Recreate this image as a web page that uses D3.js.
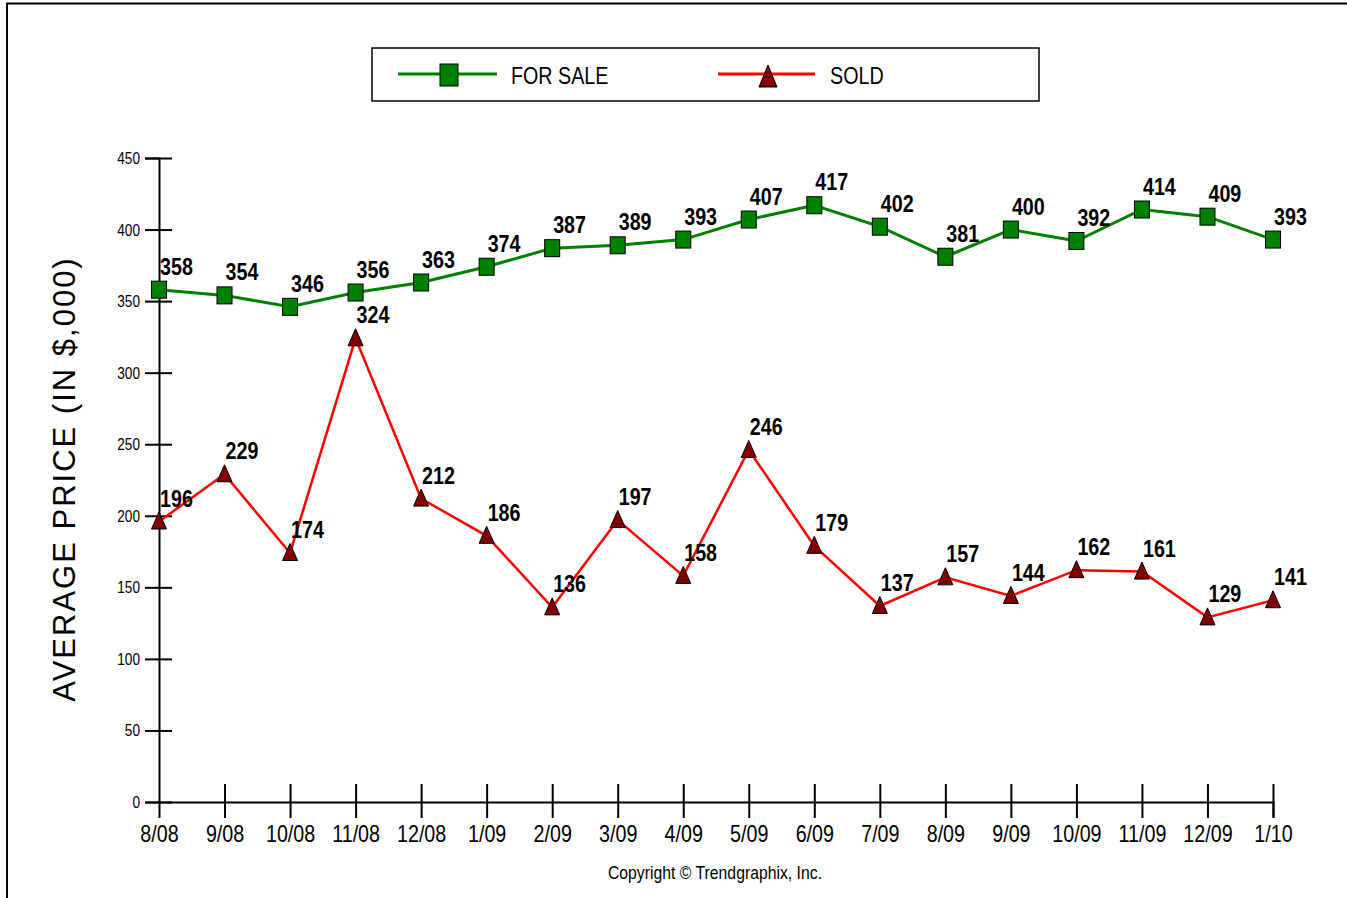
<!DOCTYPE html>
<html>
<head>
<meta charset="utf-8">
<script src="https://cdn.jsdelivr.net/npm/d3@7/dist/d3.min.js"></script>
<style>
  body { margin: 0; background: #fff; }
  .narrow { font-family: "Liberation Sans", Arial, sans-serif; }
</style>
</head>
<body>
<div class="chart"></div>
<script>
// Average price, for sale vs sold
var months = ['8/08', '9/08', '10/08', '11/08', '12/08', '1/09', '2/09', '3/09', '4/09',
  '5/09', '6/09', '7/09', '8/09', '9/09', '10/09', '11/09', '12/09', '1/10']
var forSale = [358, 354, 346, 356, 363, 374, 387, 389, 393, 407, 417, 402, 381, 400, 392, 414, 409, 393]
var sold = [196, 229, 174, 324, 212, 186, 136, 197, 158, 246, 179, 137, 157, 144, 162, 161, 129, 141]
var yTicks = [0, 50, 100, 150, 200, 250, 300, 350, 400, 450]

var width = 1347
var height = 898

var svg = d3.select('.chart')
  .append('svg')
  .attr('width', width)
  .attr('height', height)

// squeeze text horizontally (no narrow font installed)
function condense(sel, k) {
  sel.each(function() {
    var w = this.getComputedTextLength()
    d3.select(this)
      .attr('textLength', w * k)
      .attr('lengthAdjust', 'spacingAndGlyphs')
  })
}

// frame (left + top edge)
svg.append('path')
  .attr('d', 'M7,898V3.5H1347')
  .attr('fill', 'none')
  .attr('stroke', '#000')
  .attr('stroke-width', 2)

var xScale = d3.scalePoint()
  .domain(months)
  .range([159, 1273])

var yScale = d3.scaleLinear()
  .domain([0, 450])
  .range([802, 158])

// Y-axis
var yAxis = d3.axisLeft(yScale)
  .tickValues(yTicks)
  .tickSize(14)
  .tickPadding(5)

var yG = svg.append('g')
  .attr('transform', 'translate(159,0)')
  .call(yAxis)
yG.select('.domain').attr('stroke', '#000').attr('stroke-width', 2)
yG.selectAll('.tick line').attr('stroke', '#000').attr('stroke-width', 2)
yG.selectAll('.tick').append('line')
  .attr('x2', 13)
  .attr('stroke', '#000')
  .attr('stroke-width', 2)
yG.selectAll('.tick text')
  .attr('class', 'narrow')
  .attr('font-size', 17)
  .attr('fill', '#000')
  .call(condense, 0.8)

// X-axis
var xAxis = d3.axisBottom(xScale)
  .tickSize(16)
  .tickPadding(7)

var xG = svg.append('g')
  .attr('transform', 'translate(0,802)')
  .call(xAxis)
xG.select('.domain').attr('stroke', '#000').attr('stroke-width', 2)
xG.selectAll('.tick line')
  .attr('y1', -18)
  .attr('stroke', '#000')
  .attr('stroke-width', 2)
  .attr('display', (d, i) => i === 0 ? 'none' : null)
xG.selectAll('.tick text')
  .attr('class', 'narrow')
  .attr('font-size', 24)
  .attr('fill', '#000')
  .call(condense, 0.82)

// axis title
svg.append('text')
  .attr('transform', 'translate(75,479) rotate(-90)')
  .attr('text-anchor', 'middle')
  .attr('font-family', 'Arial, "Liberation Sans", sans-serif')
  .attr('font-size', 31)
  .attr('letter-spacing', 2)
  .text('AVERAGE PRICE (IN $,000)')

// lines
var line = d3.line()
  .x((d, i) => xScale(months[i]))
  .y(d => yScale(d))

svg.append('path')
  .datum(sold)
  .attr('d', line)
  .attr('fill', 'none')
  .attr('stroke', '#ff0000')
  .attr('stroke-width', 2.5)

svg.append('path')
  .datum(forSale)
  .attr('d', line)
  .attr('fill', 'none')
  .attr('stroke', '#008000')
  .attr('stroke-width', 3)

// markers
var tri = (w, h) => 'M0,' + (-h / 2) + 'L' + (w / 2) + ',' + (h / 2) + 'L' + (-w / 2) + ',' + (h / 2) + 'Z'

svg.selectAll('.sold-pt')
  .data(sold)
  .enter()
  .append('path')
  .attr('class', 'sold-pt')
  .attr('transform', (d, i) => 'translate(' + xScale(months[i]) + ',' + (yScale(d) - 1) + ')')
  .attr('d', tri(15, 17))
  .attr('fill', '#800000')
  .attr('stroke', '#000')
  .attr('stroke-width', 1)

svg.selectAll('.sale-pt')
  .data(forSale)
  .enter()
  .append('rect')
  .attr('class', 'sale-pt')
  .attr('x', (d, i) => xScale(months[i]) - 7.5)
  .attr('y', d => yScale(d) - 8.5)
  .attr('width', 15)
  .attr('height', 17)
  .attr('fill', '#008000')
  .attr('stroke', '#000')
  .attr('stroke-width', 1)

// value labels
function labels(data, cls) {
  svg.selectAll('.' + cls)
    .data(data)
    .enter()
    .append('text')
    .attr('class', 'narrow ' + cls)
    .attr('x', (d, i) => xScale(months[i]) + 1)
    .attr('y', d => yScale(d) - 15)
    .attr('font-size', 24)
    .attr('font-weight', 'bold')
    .text(d => d)
    .call(condense, 0.82)
}
labels(forSale, 'sale-lbl')
labels(sold, 'sold-lbl')

// legend
var legend = svg.append('g')
legend.append('rect')
  .attr('x', 372).attr('y', 48)
  .attr('width', 667).attr('height', 53)
  .attr('fill', '#fff')
  .attr('stroke', '#000')
  .attr('stroke-width', 1.5)
legend.append('line')
  .attr('x1', 398).attr('x2', 497).attr('y1', 74).attr('y2', 74)
  .attr('stroke', '#008000').attr('stroke-width', 3)
legend.append('rect')
  .attr('x', 440).attr('y', 64).attr('width', 18).attr('height', 22)
  .attr('fill', '#008000').attr('stroke', '#000')
legend.append('text')
  .attr('class', 'narrow')
  .attr('x', 511).attr('y', 84)
  .attr('font-size', 24)
  .text('FOR SALE')
  .call(condense, 0.82)
legend.append('line')
  .attr('x1', 718).attr('x2', 815).attr('y1', 74).attr('y2', 74)
  .attr('stroke', '#ff0000').attr('stroke-width', 3)
legend.append('path')
  .attr('transform', 'translate(768,76)')
  .attr('d', tri(18, 22))
  .attr('fill', '#800000').attr('stroke', '#000')
legend.append('text')
  .attr('class', 'narrow')
  .attr('x', 830).attr('y', 84)
  .attr('font-size', 24)
  .text('SOLD')
  .call(condense, 0.82)

// copyright
svg.append('text')
  .attr('class', 'narrow')
  .attr('x', 715).attr('y', 879)
  .attr('text-anchor', 'middle')
  .attr('font-size', 19)
  .text('Copyright \u00a9 Trendgraphix, Inc.')
  .call(condense, 0.83)
</script>
</body>
</html>
